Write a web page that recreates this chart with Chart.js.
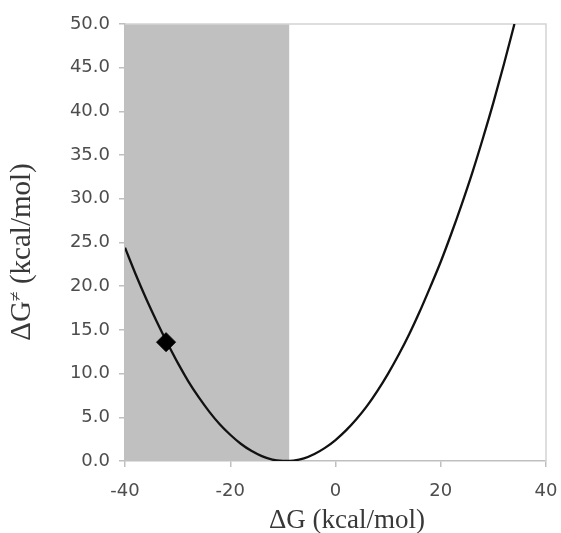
<!DOCTYPE html>
<html><head><meta charset="utf-8">
<script src="https://cdn.jsdelivr.net/npm/chart.js@4/dist/chart.umd.min.js"></script>
<style>html,body{margin:0;padding:0;background:#fff}#wrap{width:561px;height:533px}</style>
</head><body><div id="wrap"><canvas id="c" width="561" height="533"></canvas></div>
<script>
// Curve
const curveX = [-40,-38,-36,-34,-32,-30,-28,-26,-24,-22,-20,-18,-16,-14,-12,-10,-9.5,-8,-6,-4,-2,0,2,4,6,8,10,12,14,16,18,20,22,24,26,28,30,32,34];
const curveY = [24.4,21.4,18.6,16.0,13.55,11.25,9.15,7.3,5.65,4.2,3.0,1.97,1.16,0.56,0.17,0.01,0.0,0.05,0.3,0.8,1.5,2.4,3.5,4.8,6.3,8.05,10.0,12.15,14.5,17.1,19.9,22.8,26.0,29.4,33.0,36.9,41.0,45.4,50.0];
// Highlighted point
const markerX = [-32.2];
const markerY = [13.6];
// Shaded region (ΔG range)
const shadeRange = [-40, -8.8];
// Tick labels
const xTicks = [-40, -20, 0, 20, 40];
const yTicks = [0, 5, 10, 15, 20, 25, 30, 35, 40, 45, 50];
const xTitle = 'ΔG (kcal/mol)';
const yTitleParts = ['ΔG', '≠', ' (kcal/mol)'];

const curveData = curveX.map((x, i) => ({x, y: curveY[i]}));
const markerData = markerX.map((x, i) => ({x, y: markerY[i]}));

const decor = {
  id: 'decor',
  beforeDatasetsDraw(chart) {
    const {ctx, chartArea: a, scales: {x, y}} = chart;
    ctx.save();
    const x0 = x.getPixelForValue(shadeRange[0]);
    const x1 = x.getPixelForValue(shadeRange[1]);
    ctx.fillStyle = '#c0c0c0';
    ctx.fillRect(x0, a.top, x1 - x0, a.bottom - a.top);
    ctx.strokeStyle = '#d4d4d4';
    ctx.lineWidth = 1.5;
    ctx.beginPath();
    ctx.moveTo(a.left, a.top); ctx.lineTo(a.right, a.top); ctx.lineTo(a.right, a.bottom);
    ctx.stroke();
    ctx.restore();
  },
  afterDraw(chart) {
    const {ctx} = chart;
    ctx.save();
    ctx.fillStyle = '#383838';
    ctx.textBaseline = 'middle';
    ctx.textAlign = 'center';
    ctx.font = '27px "Liberation Serif", "Times New Roman", serif';
    ctx.fillText(xTitle, 347, 521);
    // y title, rotated
    ctx.translate(22, 252);
    ctx.rotate(-Math.PI / 2);
    const big = '29px "Liberation Serif", "Times New Roman", serif';
    const small = '18px "Liberation Serif", "Times New Roman", serif';
    ctx.font = big; const w0 = ctx.measureText(yTitleParts[0]).width;
    const w2 = ctx.measureText(yTitleParts[2]).width;
    ctx.font = small; const w1 = ctx.measureText(yTitleParts[1]).width;
    let sx = -(w0 + w1 + w2) / 2;
    ctx.textAlign = 'left';
    ctx.font = big; ctx.fillText(yTitleParts[0], sx, 0); sx += w0;
    ctx.font = small; ctx.fillText(yTitleParts[1], sx, -6); sx += w1;
    ctx.font = big; ctx.fillText(yTitleParts[2], sx, 0);
    ctx.restore();
  }
};

new Chart(document.getElementById('c'), {
  type: 'scatter',
  data: {
    datasets: [
      {data: markerData, pointStyle: 'rectRot', pointRadius: 9.5, backgroundColor: '#000', borderColor: '#000', borderWidth: 1, showLine: false, order: 0},
      {data: curveData, showLine: true, borderColor: '#111', borderWidth: 2.3, pointRadius: 0, cubicInterpolationMode: 'monotone', fill: false, order: 1}
    ]
  },
  options: {
    responsive: false,
    devicePixelRatio: 1,
    animation: false,
    events: [],
    layout: {padding: {left: 0, right: 15, top: 24, bottom: 0}},
    plugins: {legend: {display: false}, tooltip: {enabled: false}, title: {display: false}},
    scales: {
      x: {
        type: 'linear', min: -40, max: 40,
        afterBuildTicks: s => { s.ticks = xTicks.map(v => ({value: v})); },
        afterFit: s => { s.height = 72; s.paddingLeft = 0; s.paddingRight = 0; },
        grid: {drawOnChartArea: false, drawTicks: true, tickLength: 6, color: '#bfbfbf', lineWidth: 1.5},
        border: {color: '#bfbfbf', width: 1.5},
        ticks: {color: '#4d4d4d', padding: 14, font: {family: '"DejaVu Sans", Verdana, sans-serif', size: 18}, callback: v => String(v)}
      },
      y: {
        type: 'linear', min: 0, max: 50,
        afterBuildTicks: s => { s.ticks = yTicks.map(v => ({value: v})); },
        afterFit: s => { s.width = 125; s.paddingTop = 0; s.paddingBottom = 0; },
        grid: {drawOnChartArea: false, drawTicks: true, tickLength: 6, color: '#bfbfbf', lineWidth: 1.5},
        border: {color: '#bfbfbf', width: 1.5},
        ticks: {color: '#4d4d4d', padding: 9, font: {family: '"DejaVu Sans", Verdana, sans-serif', size: 18}, callback: v => Number(v).toFixed(1)}
      }
    }
  },
  plugins: [decor]
});
</script></body></html>
